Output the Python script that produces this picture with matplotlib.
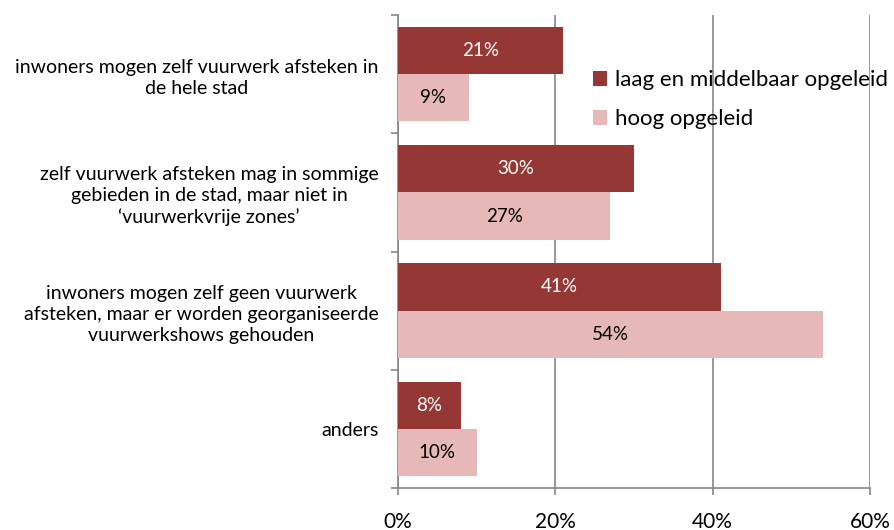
import numpy as np
import matplotlib.pyplot as plt
from matplotlib.ticker import FuncFormatter

categories = [
    "inwoners mogen zelf vuurwerk afsteken in\nde hele stad",
    "zelf vuurwerk afsteken mag in sommige\ngebieden in de stad, maar niet in\n\u2018vuurwerkvrije zones\u2019",
    "inwoners mogen zelf geen vuurwerk\nafsteken, maar er worden georganiseerde\nvuurwerkshows gehouden",
    "anders",
]
laag_middelbaar = [21, 30, 41, 8]
hoog = [9, 27, 54, 10]
series_names = ["laag en middelbaar opgeleid", "hoog opgeleid"]

plt.rcParams['font.family'] = ['Lato', 'DejaVu Sans']

dark = '#953735'
light = '#E6B9B8'
grey = '#868686'

fig = plt.figure(figsize=(8.95, 5.30), dpi=100)
ax = fig.add_axes([398 / 895, 1 - 488 / 530, (870 - 398) / 895, (488 - 15) / 530])

y = np.arange(len(categories))
h = 0.4
b1 = ax.barh(y - h / 2, laag_middelbaar, height=h, color=dark, label=series_names[0], zorder=3)
b2 = ax.barh(y + h / 2, hoog, height=h, color=light, label=series_names[1], zorder=3)

for bar, v in zip(b1, laag_middelbaar):
    ax.text(bar.get_width() / 2, bar.get_y() + bar.get_height() / 2, f"{v}%",
            ha='center', va='center', color='white', fontsize=13.5, zorder=4)
for bar, v in zip(b2, hoog):
    ax.text(bar.get_width() / 2, bar.get_y() + bar.get_height() / 2, f"{v}%",
            ha='center', va='center', color='black', fontsize=13.5, zorder=4)

ax.set_xlim(0, 60)
ax.set_ylim(len(categories) - 0.5, -0.5)
ax.set_xticks([0, 20, 40, 60])
ax.xaxis.set_major_formatter(FuncFormatter(lambda v, p: f"{v:.0f}%"))
ax.grid(axis='x', color=grey, linewidth=1.2, zorder=0)

ax.set_yticks(y)
ax.set_yticklabels(categories, multialignment='center', fontsize=14, linespacing=1.3)
ax.set_yticks(np.arange(-0.5, len(categories)), minor=True)
ax.tick_params(axis='y', which='major', length=0, pad=14)
ax.tick_params(axis='y', which='minor', length=5, color=grey, width=1.2)
ax.tick_params(axis='x', length=5, color=grey, width=1.2, pad=12, labelsize=15)

for s in ['top', 'right']:
    ax.spines[s].set_visible(False)
for s in ['left', 'bottom']:
    ax.spines[s].set_color(grey)
    ax.spines[s].set_linewidth(1.2)

ax.legend(loc='upper left', bbox_to_anchor=(0.413, 0.883), frameon=False, fontsize=16,
          borderpad=0, borderaxespad=0, handlelength=0.65, handleheight=0.65,
          handletextpad=0.35, labelspacing=0.85)

plt.savefig('out.png', dpi=100)
